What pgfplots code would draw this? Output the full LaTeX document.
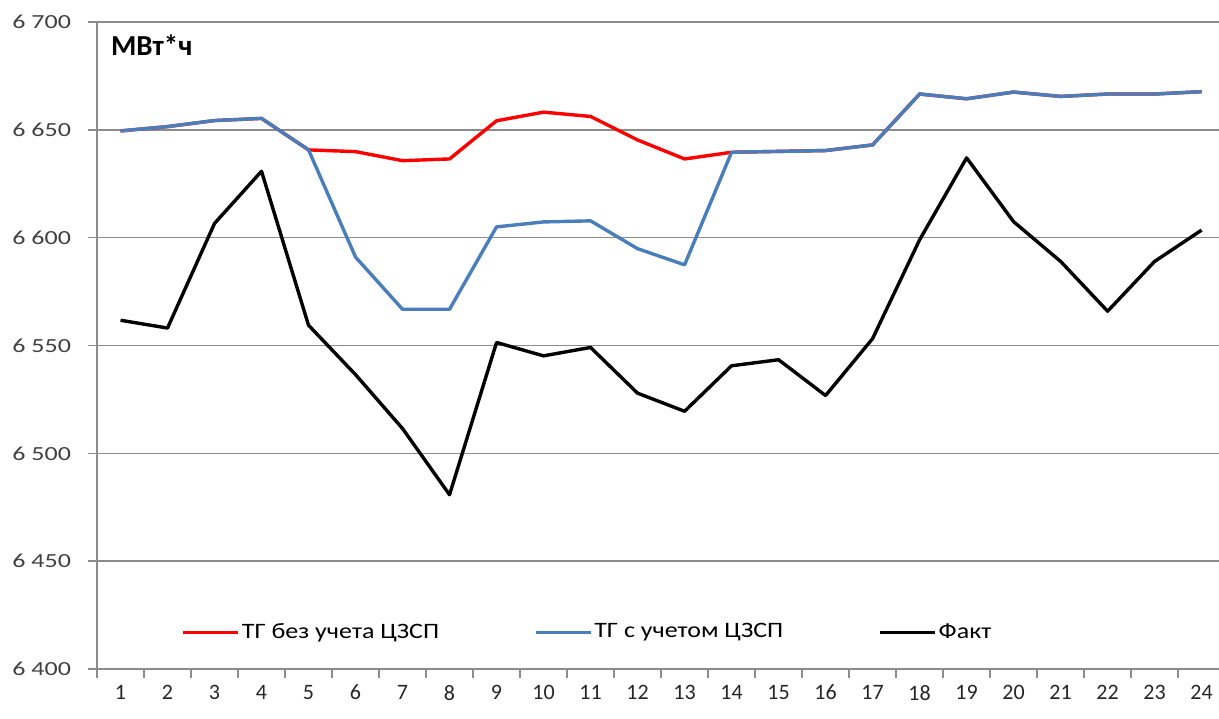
\documentclass[border=0pt]{standalone}
\usepackage{pgfplots}
\pgfplotsset{compat=1.18}
\usepackage{fontspec}
\setmainfont{Carlito}
\usepackage{graphicx}

\definecolor{tgred}{RGB}{255,0,0}
\definecolor{tgblue}{RGB}{74,126,187}
\definecolor{gridgray}{RGB}{140,140,140}
\definecolor{labgray}{RGB}{64,64,64}

\begin{document}
\begin{tikzpicture}
\begin{axis}[
  name=ax,
  scale only axis,
  width=561pt, height=323.5pt,
  xmin=0.5, xmax=24.37,
  ymin=6400, ymax=6700,
  ytick={6400,6450,...,6700},
  xtick={0.5,1.5,...,23.5},
  xticklabels={},
  extra x ticks={1,2,...,24},
  extra x tick style={major tick length=0pt},
  extra x tick labels={1,2,3,4,5,6,7,8,9,10,11,12,13,14,15,16,17,18,19,20,21,22,23,24},
  axis x line*=bottom,
  axis y line*=left,
  ymajorgrids,
  grid style={gridgray, line width=0.75pt},
  tick align=outside,
  major tick length=4.5pt,
  tick style={gridgray, line width=0.75pt},
  axis line style={gridgray, line width=0.9pt},
  scaled y ticks=false,
  /pgf/number format/assume math mode=true,
  /pgf/number format/1000 sep={\ },
  yticklabel={\scalebox{1.3}[1]{\pgfmathprintnumber{\tick}}},
  yticklabel style={font=\fontsize{10}{12}\selectfont, text=labgray, xshift=-5pt},
  xticklabel style={font=\fontsize{11}{13}\selectfont, text=black!85, yshift=-4.5pt},
  legend columns=3,
  legend cell align=left,
  legend style={at={(axis cs:2.29,6417)}, anchor=west, draw=none, fill=none,
    inner sep=0pt, font=\fontsize{11}{13}\selectfont,
    nodes={inner sep=1pt},
    /tikz/every even column/.append style={column sep=0pt}},
  legend image code/.code={\draw[#1] (0pt,0pt) -- (27.5pt,0pt);},
  every axis plot/.append style={line width=1.7pt, line join=round},
]
\addplot[tgred] coordinates {
(1,6649.5) (2,6651.5) (3,6654.3) (4,6655.3) (5,6640.7) (6,6639.9)
(7,6635.7) (8,6636.5) (9,6654.2) (10,6658.2) (11,6656.2) (12,6645.3)
(13,6636.5) (14,6639.6) (15,6640.0) (16,6640.4) (17,6643.0) (18,6666.6)
(19,6664.4) (20,6667.5) (21,6665.5) (22,6666.6) (23,6666.6) (24,6667.7)};
\addlegendentry{\makebox[145pt][l]{\scalebox{1.18}[1]{ТГ без учета ЦЗСП}}}
\addplot[tgblue] coordinates {
(1,6649.5) (2,6651.5) (3,6654.3) (4,6655.3) (5,6640.7) (6,6591.0)
(7,6566.8) (8,6566.8) (9,6605.0) (10,6607.3) (11,6607.8) (12,6594.9)
(13,6587.4) (14,6639.6) (15,6640.0) (16,6640.4) (17,6643.0) (18,6666.6)
(19,6664.4) (20,6667.5) (21,6665.5) (22,6666.6) (23,6666.6) (24,6667.7)};
\addlegendentry{\makebox[141pt][l]{\scalebox{1.18}[1]{ТГ с учетом ЦЗСП}}}
\addplot[black] coordinates {
(1,6561.7) (2,6558.1) (3,6606.6) (4,6630.8) (5,6559.4) (6,6536.5)
(7,6511.5) (8,6480.8) (9,6551.4) (10,6545.2) (11,6549.1) (12,6527.9)
(13,6519.5) (14,6540.6) (15,6543.4) (16,6526.8) (17,6553.2) (18,6599.0)
(19,6637.0) (20,6607.4) (21,6589.0) (22,6565.9) (23,6589.0) (24,6603.5)};
\addlegendentry{\scalebox{1.18}[1]{Факт}}
\node[anchor=west, xshift=3.5pt, yshift=-11.5pt, font=\bfseries\fontsize{14.5}{17}\selectfont] at (rel axis cs:0,1) {МВт*ч};
\end{axis}
\pgfresetboundingbox
\useasboundingbox ([xshift=-48.5pt,yshift=-24.5pt]ax.south west) rectangle ([yshift=11pt]ax.north east);
\end{tikzpicture}
\end{document}
